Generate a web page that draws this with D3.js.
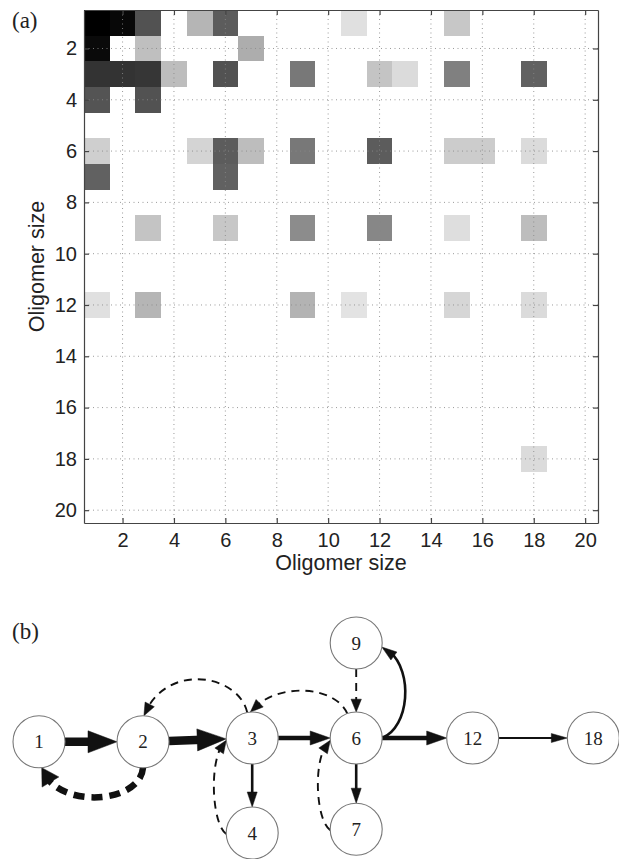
<!DOCTYPE html>
<html><head><meta charset="utf-8">
<script src="https://cdn.jsdelivr.net/npm/d3@7"></script>
<style>body{margin:0;background:#fff;} svg{display:block;}</style>
</head><body>
<svg id="c" width="619" height="859"></svg>
<script>
// ---------- panel (a): data ----------
const tickValues = [2,4,6,8,10,12,14,16,18,20];
const axisTitle = "Oligomer size";
const cellRow = [1,1,1,1,1,1,1, 2,2,2, 3,3,3,3,3,3,3,3,3,3, 4,4, 6,6,6,6,6,6,6,6,6, 7,7, 9,9,9,9,9,9, 12,12,12,12,12,12, 18];
const cellCol = [1,2,3,5,6,11,15, 1,3,7, 1,2,3,4,6,9,12,13,15,18, 1,3, 1,5,6,7,9,12,15,16,18, 1,6, 3,6,9,12,15,18, 1,3,9,11,15,18, 18];
const cellVal = [1.0,0.97,0.68,0.29,0.64,0.12,0.22, 0.96,0.25,0.32, 0.8,0.8,0.79,0.26,0.68,0.53,0.23,0.14,0.5,0.62, 0.67,0.68, 0.19,0.17,0.64,0.26,0.53,0.64,0.2,0.2,0.14, 0.62,0.62, 0.23,0.22,0.45,0.47,0.13,0.26, 0.12,0.29,0.3,0.11,0.16,0.14, 0.14];

// ---------- panel (b): data ----------
const nodeIds    = [1,2,3,4,6,7,9,12,18];
const edgeSource = [1,2,3,6,12,3,6,6, 2,3,6,9,4,7];
const edgeTarget = [2,3,6,12,18,4,7,9, 1,2,3,6,3,6];
const edgeFlux   = [4,4,3,3,1,2,2,2, 3.5,1,1,1,1,1];
const edgeDashed = [0,0,0,0,0,0,0,0, 1,1,1,1,1,1];

// ---------- layout (not data) ----------
const nodeGrid = {1:[0,0.04],2:[1,0.04],3:[2.05,0],6:[3.05,0],12:[4.17,0],18:[5.33,0],4:[2.05,1],7:[3.05,0.96],9:[3.05,-1]};
const edgeShape = {
  "2-1":{a0:90,  c0:[-3,37],  a1:84,  c1:[13,42]},
  "3-2":{a0:-101,c0:[-9,-39], a1:-88, c1:[21,-54]},
  "6-3":{a0:-110,c0:[-12,-28],a1:-94, c1:[25,-31]},
  "6-9":{a0:0,   c0:[30,-12], a1:9,   c1:[32,13]},
  "4-3":{a0:178, c0:[-15,-10],a1:175, c1:[-18,14]},
  "7-6":{a0:178, c0:[-15,-10],a1:175, c1:[-18,14]}
};

const sans = "'Liberation Sans', Arial, Helvetica, sans-serif";
const serif = "'Liberation Serif', 'Times New Roman', serif";
const svg = d3.select("#c");

// ================= panel (a) =================
const x = d3.scaleLinear().domain([0.5,20.5]).range([84,598]);
const y = d3.scaleLinear().domain([0.5,20.5]).range([10,523]);
const shade = d3.scaleLinear().domain([0,1]).range(["#ffffff","#000000"]);
const gA = svg.append("g");
const cells = cellVal.map((v,i)=>({r:cellRow[i], c:cellCol[i], v}));
gA.selectAll("rect.cell").data(cells).join("rect").attr("class","cell")
  .attr("x",d=>x(d.c-0.5)).attr("y",d=>y(d.r-0.5))
  .attr("width",d=>x(d.c+0.5)-x(d.c-0.5)).attr("height",d=>y(d.r+0.5)-y(d.r-0.5))
  .attr("fill",d=>shade(d.v)).attr("shape-rendering","crispEdges");

// grid (on top of cells, as in the original)
const grid = gA.append("g").attr("stroke","#8a8a8a").attr("stroke-width",1).attr("stroke-dasharray","1,3.5").attr("opacity",0.85);
grid.selectAll("line.v").data(tickValues).join("line").attr("class","v")
  .attr("x1",d=>x(d)).attr("x2",d=>x(d)).attr("y1",y.range()[0]).attr("y2",y.range()[1]);
grid.selectAll("line.h").data(tickValues).join("line").attr("class","h")
  .attr("y1",d=>y(d)).attr("y2",d=>y(d)).attr("x1",x.range()[0]).attr("x2",x.range()[1]);

function styleAxis(g){
  g.selectAll("path.domain").attr("stroke","#444").attr("stroke-width",1.2);
  g.selectAll(".tick line").attr("stroke","#444").attr("stroke-width",1.2);
  g.selectAll(".tick text").attr("font-family",sans).attr("font-size",20).attr("fill","#222");
  g.attr("font-family",null).attr("font-size",null);
}
gA.append("g").attr("transform",`translate(0,${y.range()[1]})`)
  .call(d3.axisBottom(x).tickValues(tickValues).tickSizeInner(-5).tickSizeOuter(0).tickPadding(10)).call(styleAxis);
gA.append("g").attr("transform",`translate(0,${y.range()[0]})`)
  .call(d3.axisTop(x).tickValues(tickValues).tickSizeInner(-5).tickSizeOuter(0).tickFormat("")).call(styleAxis);
gA.append("g").attr("transform",`translate(${x.range()[0]},0)`)
  .call(d3.axisLeft(y).tickValues(tickValues).tickSizeInner(-5).tickSizeOuter(0).tickPadding(7)).call(styleAxis);
gA.append("g").attr("transform",`translate(${x.range()[1]},0)`)
  .call(d3.axisRight(y).tickValues(tickValues).tickSizeInner(-5).tickSizeOuter(0).tickFormat("")).call(styleAxis);

gA.append("text").attr("x",(x.range()[0]+x.range()[1])/2).attr("y",570)
  .attr("text-anchor","middle").attr("font-family",sans).attr("font-size",21.5).attr("fill","#222").text(axisTitle);
gA.append("text").attr("transform",`translate(44,${(y.range()[0]+y.range()[1])/2}) rotate(-90)`)
  .attr("text-anchor","middle").attr("font-family",sans).attr("font-size",21.5).attr("fill","#222").text(axisTitle);
svg.append("text").attr("x",12).attr("y",28).attr("font-family",serif).attr("font-size",23).attr("fill","#222").text("(a)");

// ================= panel (b) =================
svg.append("text").attr("x",12).attr("y",639).attr("font-family",serif).attr("font-size",23).attr("fill","#222").text("(b)");
const gx = d3.scaleLinear().domain([0,1]).range([39,143]);
const gy = d3.scaleLinear().domain([-1,1]).range([643,833]);
const R = 26;
const nodes = nodeIds.map(id=>({id, x:gx(nodeGrid[id][0]), y:gy(nodeGrid[id][1])}));
const byId = new Map(nodes.map(n=>[n.id,n]));
const edges = edgeSource.map((s,i)=>({s, t:edgeTarget[i], flux:edgeFlux[i], dashed:!!edgeDashed[i]}));

const widthS = d3.scaleLinear().domain([1,2,3,3.5,4]).range([1.9,2.6,4.6,6.5,8.5]);
const lenS   = d3.scaleLinear().domain([1,2,3,3.5,4]).range([16,15,20,21,29]);
const halfS  = d3.scaleLinear().domain([1,2,3,3.5,4]).range([4.5,5,7,8.5,11]);

const bez = (p,t)=>{const u=1-t; return [0,1].map(k=>u*u*u*p[0][k]+3*u*u*t*p[1][k]+3*u*t*t*p[2][k]+t*t*t*p[3][k]);};
function splitAt(p,t){ // left part of cubic
  const lerp=(a,b)=>[a[0]+(b[0]-a[0])*t,a[1]+(b[1]-a[1])*t];
  const a=lerp(p[0],p[1]), b=lerp(p[1],p[2]), c=lerp(p[2],p[3]);
  const d=lerp(a,b), e=lerp(b,c), f=lerp(d,e);
  return [p[0],a,d,f];
}
function tAtDist(p,dist){ // t where point is 'dist' from the end
  let best=1;
  for(let t=1;t>=0;t-=0.002){const q=bez(p,t); if(Math.hypot(q[0]-p[3][0],q[1]-p[3][1])>=dist){best=t;break;}}
  return best;
}
function geom(e){
  const s=byId.get(e.s), t=byId.get(e.t);
  const L=lenS(e.flux)*(e.dashed?0.8:1);
  const trim=L*0.6;
  const sh=edgeShape[e.s+"-"+e.t];
  if(!sh){
    const dx=t.x-s.x, dy=t.y-s.y, n=Math.hypot(dx,dy), ux=dx/n, uy=dy/n;
    const p0=[s.x+ux*R,s.y+uy*R], p3=[t.x-ux*R,t.y-uy*R];
    const pe=[p3[0]-ux*trim,p3[1]-uy*trim];
    const path=d3.path(); path.moveTo(...p0); path.lineTo(...pe);
    return {d:path.toString(), tip:p3, dir:[ux,uy], L};
  }
  const rad=a=>a*Math.PI/180;
  const p0=[s.x+R*Math.cos(rad(sh.a0)), s.y+R*Math.sin(rad(sh.a0))];
  const p3=[t.x+R*Math.cos(rad(sh.a1)), t.y+R*Math.sin(rad(sh.a1))];
  const p1=[p0[0]+sh.c0[0],p0[1]+sh.c0[1]], p2=[p3[0]+sh.c1[0],p3[1]+sh.c1[1]];
  const P=[p0,p1,p2,p3];
  const cut=splitAt(P,tAtDist(P,trim));
  const path=d3.path(); path.moveTo(...cut[0]); path.bezierCurveTo(...cut[1],...cut[2],...cut[3]);
  const qb=bez(P,tAtDist(P,L));
  const dx=p3[0]-qb[0], dy=p3[1]-qb[1], n=Math.hypot(dx,dy);
  return {d:path.toString(), tip:p3, dir:[dx/n,dy/n], L};
}
const gB = svg.append("g");
edges.forEach(e=>{
  const g=geom(e);
  const w=widthS(e.flux);
  gB.append("path").attr("d",g.d).attr("fill","none").attr("stroke","#111")
    .attr("stroke-width",w)
    .attr("stroke-dasharray", e.dashed ? (e.flux>2 ? "11,7" : "8,6") : null);
  const H=halfS(e.flux)*(e.dashed?1.15:1);
  const [ux,uy]=g.dir, [tx,ty]=g.tip;
  const bx=tx-ux*g.L, by=ty-uy*g.L;
  const pts=[[tx,ty],[bx-uy*H,by+ux*H],[bx+uy*H,by-ux*H]];
  gB.append("path").attr("d",d3.line()(pts)+"Z").attr("fill","#111").attr("stroke","#111").attr("stroke-width",0.5);
});
const ng = gB.selectAll("g.node").data(nodes).join("g").attr("class","node")
  .attr("transform",d=>`translate(${d.x},${d.y})`);
ng.append("circle").attr("r",R).attr("fill","#fff").attr("stroke","#777").attr("stroke-width",1.1);
ng.append("text").attr("text-anchor","middle").attr("dy","0.35em")
  .attr("font-family",serif).attr("font-size",19).attr("fill","#222").text(d=>d.id);
</script>
</body></html>
